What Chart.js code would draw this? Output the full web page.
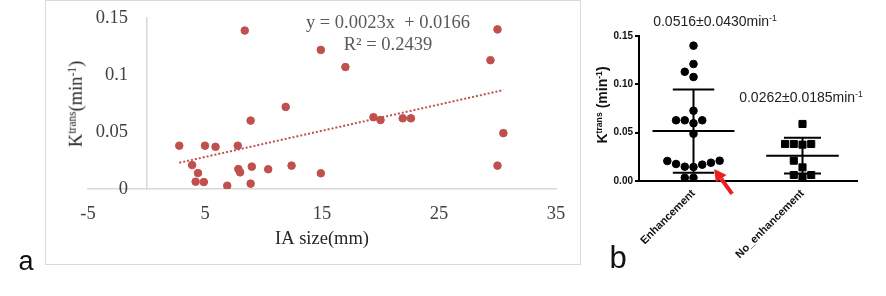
<!DOCTYPE html>
<html>
<head>
<meta charset="utf-8">
<script src="https://cdn.jsdelivr.net/npm/chart.js@4.4.1/dist/chart.umd.min.js"></script>
<style>
  body { margin: 0; background: #fff; width: 886px; height: 296px; position: relative; overflow: hidden; }
  #frameA { position: absolute; left: 45px; top: 0; width: 534px; height: 263px; border: 1px solid #d9d9d9; }
  canvas { position: absolute; top: 0; }
  #chartA { left: 0; }
  #chartB { left: 580px; }
  .t { position: absolute; white-space: nowrap; line-height: 1; transform: translate(-50%, -50%); }
  .serif { font-family: 'Liberation Serif', serif; font-size: 18.5px; }
  .sans { font-family: 'Liberation Sans', Arial, sans-serif; }
  .rot { transform: translate(-50%, -50%) rotate(-90deg); }
  sup { font-size: 0.62em; vertical-align: 0.55em; line-height: 0; }
</style>
</head>
<body>
<div id="frameA"></div>
<canvas id="chartA" width="580" height="296"></canvas>
<canvas id="chartB" width="306" height="296"></canvas>

<div class="t sans" style="left:26px;top:261px;font-size:27px;color:#111;">a</div>
<div class="t sans" style="left:618px;top:257px;font-size:31px;color:#111;">b</div>

<div class="t serif" style="left:388px;top:22px;color:#595959;">y = 0.0023x&nbsp; + 0.0166</div>
<div class="t serif" style="left:388px;top:44px;color:#595959;">R² = 0.2439</div>
<div class="t serif rot" style="left:76px;top:104px;color:#262626;">K<sup>trans</sup>(min<sup>-1</sup>)</div>

<div class="t sans rot" style="left:602px;top:105px;font-size:14px;font-weight:bold;color:#111;">K<sup>trans</sup> (min<sup>-1</sup>)</div>
<div class="t sans" style="left:715px;top:21px;font-size:14px;color:#222;">0.0516±0.0430min<sup>-1</sup></div>
<div class="t sans" style="left:801px;top:97px;font-size:14px;color:#222;">0.0262±0.0185min<sup>-1</sup></div>

<script>
// panel a: IA size vs Ktrans
const iaSize = [2.8, 5.0, 5.9, 7.8, 8.9, 11.9, 3.9, 4.4, 4.2, 4.9, 6.9, 7.85, 8.0, 9.0, 8.9,
  10.4, 12.4, 8.4, 14.9, 17.0, 19.4, 20.0, 21.9, 22.6, 29.4, 30.0, 30.5, 30.0, 14.9];
const ktransA = [0.038, 0.038, 0.037, 0.038, 0.060, 0.072, 0.021, 0.014, 0.0064, 0.0061, 0.0029, 0.0175, 0.0146, 0.0196, 0.0047,
  0.0173, 0.0205, 0.139, 0.122, 0.107, 0.063, 0.0605, 0.062, 0.062, 0.113, 0.140, 0.049, 0.0205, 0.0138];
const trendSlope = 0.0023;
const trendIntercept = 0.0166;
const xTicksA = [-5, 5, 15, 25, 35];
const yTicksA = [0, 0.05, 0.1, 0.15];

// panel b: groups
const groups = ['Enhancement', 'No_enhancement'];
const enhValues = [0.140, 0.121, 0.113, 0.1076, 0.0727, 0.0628, 0.0628, 0.0628, 0.0597, 0.0489,
  0.021, 0.0176, 0.0148, 0.0145, 0.0169, 0.0189, 0.0207, 0.0034, 0.0034];
const noEnhValues = [0.059, 0.0383, 0.0376, 0.0383, 0.0383, 0.021, 0.0141, 0.0062, 0.0062, 0.0038];
const groupMeans = [0.0516, 0.0262];
const groupSDs = [0.0430, 0.0185];
const yTicksB = [0, 0.05, 0.10, 0.15];

const red = '#c0504d';
const serif = 'Liberation Serif';
const sans = 'Liberation Sans';

const pointsA = iaSize.map((x, i) => ({ x: x, y: ktransA[i] }));
const xMin = Math.min(...iaSize), xMax = Math.max(...iaSize);
const trendA = [xMin, xMax].map(x => ({ x: x, y: trendSlope * x + trendIntercept }));

new Chart(document.getElementById('chartA'), {
  type: 'scatter',
  data: {
    datasets: [
      { data: pointsA, backgroundColor: red, borderColor: red, pointRadius: 3.8, pointHoverRadius: 3.8 },
      { type: 'line', data: trendA, borderColor: red, borderWidth: 2, borderDash: [2, 2], pointRadius: 0, fill: false }
    ]
  },
  options: {
    responsive: false,
    animation: false,
    events: [],
    layout: { padding: { left: 88, right: 24, top: 18, bottom: 0 } },
    plugins: { legend: { display: false }, tooltip: { enabled: false } },
    scales: {
      x: {
        type: 'linear', min: -5, max: 35,
        afterBuildTicks: a => { a.ticks = xTicksA.map(v => ({ value: v })); },
        afterFit: a => { a.height = 107; },
        grid: { display: false, drawTicks: false },
        border: { color: '#d9d9d9', width: 1.5 },
        ticks: { font: { family: serif, size: 18.5 }, color: '#404040', padding: 14 },
        title: { display: true, text: 'IA size(mm)', font: { family: serif, size: 18.5 }, color: '#262626', padding: { top: 0, bottom: 46 } }
      },
      y: {
        min: 0, max: 0.15,
        position: { x: 0 },
        afterBuildTicks: a => { a.ticks = yTicksA.map(v => ({ value: v })); },
        afterFit: a => { a.width = 0; },
        grid: { display: false, drawTicks: false },
        border: { color: '#d9d9d9', width: 1.5 },
        // labels of an axis placed at x = 0 sit right on the line, so keep a gap with trailing spaces
        ticks: { font: { family: serif, size: 18.5 }, color: '#404040', callback: v => String(v) + '    ' }
      }
    }
  }
});

// spread points of one group sideways so they do not overlap (dot-plot style)
function swarm(values, center) {
  const yPx = 145 / 0.15, slotPx = 8.7, dotPx = 8, slot = 0.08;
  const placed = [];
  const out = new Array(values.length);
  const order = values.map((v, i) => i).sort((a, b) => values[a] - values[b]);
  order.forEach(i => {
    const v = values[i];
    for (let k = 0; ; k++) {
      const s = k === 0 ? 0 : (k % 2 ? -Math.ceil(k / 2) : k / 2);
      const hit = placed.some(p => Math.hypot((p.s - s) * slotPx, (p.v - v) * yPx) < dotPx);
      if (!hit) { placed.push({ s: s, v: v }); out[i] = { x: center + s * slot, y: v }; break; }
    }
  });
  return out;
}

const meanHalf = [0.376, 0.333];
const capHalf = [0.19, 0.17];
function meanSdLine(g) {
  const m = groupMeans[g], sd = groupSDs[g];
  return [
    { x: g - meanHalf[g], y: m }, { x: g + meanHalf[g], y: m }, { x: g, y: null },
    { x: g - capHalf[g], y: m + sd }, { x: g + capHalf[g], y: m + sd }, { x: g, y: null },
    { x: g - capHalf[g], y: m - sd }, { x: g + capHalf[g], y: m - sd }, { x: g, y: null },
    { x: g, y: m + sd }, { x: g, y: m - sd }
  ];
}

const arrowPlugin = {
  id: 'arrow',
  afterDatasetsDraw(chart) {
    const { ctx, scales: { x, y } } = chart;
    const hx = x.getPixelForValue(0.19), hy = y.getPixelForValue(0.0124);
    const tx = x.getPixelForValue(0.354), ty = y.getPixelForValue(-0.0134);
    const ang = Math.atan2(hy - ty, hx - tx);
    const hl = 12, hw = 6.5;
    const bx = hx - hl * Math.cos(ang), by = hy - hl * Math.sin(ang);
    ctx.save();
    ctx.strokeStyle = '#ee1d23';
    ctx.fillStyle = '#ee1d23';
    ctx.lineWidth = 4;
    ctx.beginPath();
    ctx.moveTo(tx, ty);
    ctx.lineTo(bx, by);
    ctx.stroke();
    ctx.beginPath();
    ctx.moveTo(hx, hy);
    ctx.lineTo(bx + hw * Math.sin(ang), by - hw * Math.cos(ang));
    ctx.lineTo(bx - hw * Math.sin(ang), by + hw * Math.cos(ang));
    ctx.closePath();
    ctx.fill();
    ctx.restore();
  }
};

new Chart(document.getElementById('chartB'), {
  type: 'scatter',
  data: {
    datasets: [
      { type: 'line', data: meanSdLine(0), borderColor: '#000', borderWidth: 2, pointRadius: 0, spanGaps: false, fill: false },
      { type: 'line', data: meanSdLine(1), borderColor: '#000', borderWidth: 2, pointRadius: 0, spanGaps: false, fill: false },
      { data: swarm(enhValues, 0), pointStyle: 'circle', pointRadius: 3.8, backgroundColor: '#000', borderColor: '#000' },
      { data: swarm(noEnhValues, 1), pointStyle: 'rect', pointRadius: 5, backgroundColor: '#000', borderColor: '#000' }
    ]
  },
  options: {
    responsive: false,
    animation: false,
    events: [],
    layout: { padding: { left: 0, right: 29, top: 36, bottom: 0 } },
    plugins: { legend: { display: false }, tooltip: { enabled: false } },
    scales: {
      x: {
        type: 'linear', min: -0.5, max: 1.5,
        afterBuildTicks: a => { a.ticks = groups.map((g, i) => ({ value: i })); },
        afterFit: a => { a.height = 115; },
        grid: { display: false, drawTicks: false },
        border: { color: '#000', width: 2 },
        ticks: { callback: v => groups[v], minRotation: 45, maxRotation: 45, font: { family: sans, size: 11, weight: 'bold' }, color: '#111', padding: 6 }
      },
      y: {
        min: 0, max: 0.15,
        afterBuildTicks: a => { a.ticks = yTicksB.map(v => ({ value: v })); },
        afterFit: a => { a.width = 59; },
        grid: { drawOnChartArea: false, drawTicks: true, tickLength: 4, color: '#000', lineWidth: 2 },
        border: { color: '#000', width: 2 },
        ticks: { font: { family: sans, size: 10, weight: 'bold' }, color: '#111', padding: 2, callback: v => v.toFixed(2) }
      }
    }
  },
  plugins: [arrowPlugin]
});
</script>
</body>
</html>
